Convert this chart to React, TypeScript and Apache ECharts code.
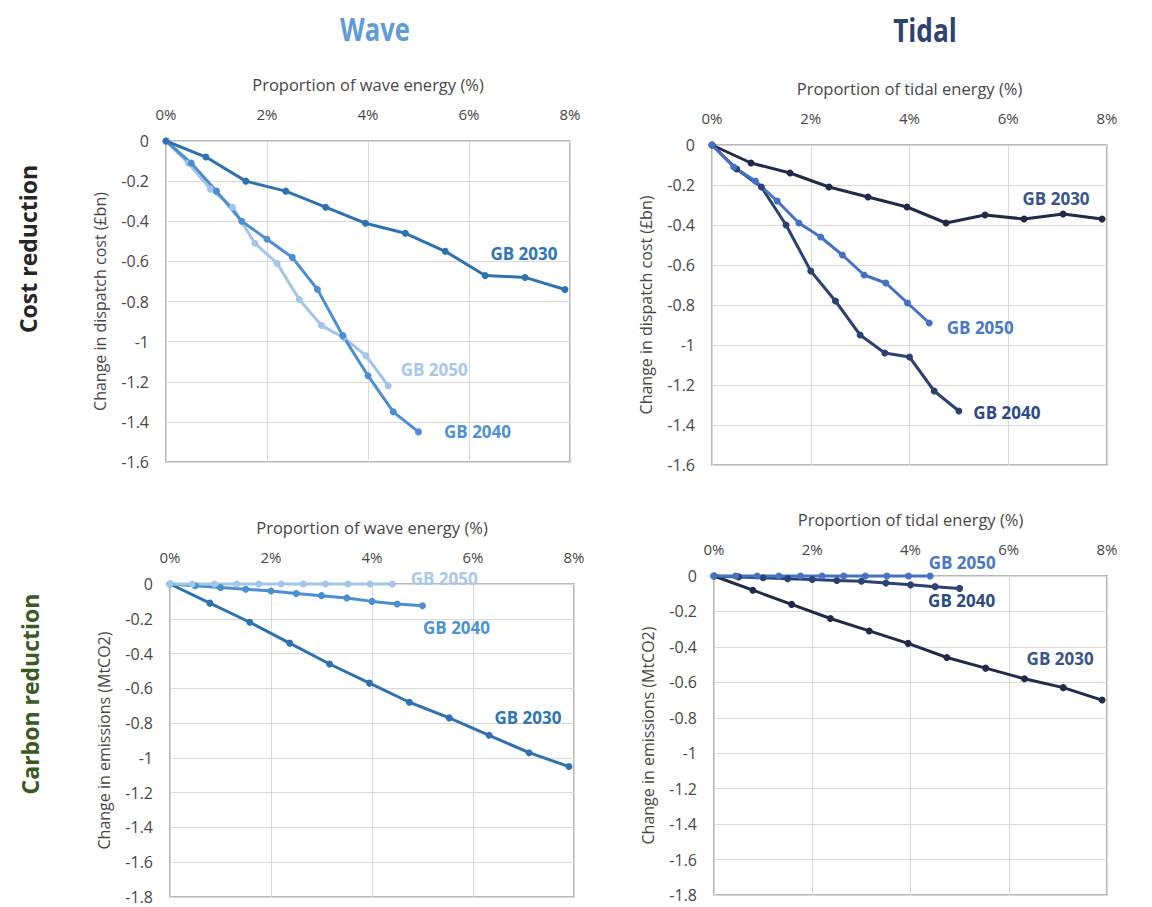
import React, { useEffect, useRef } from "react";
import * as echarts from "echarts";

// Share of generation (%) at each model run
const x2030 = [0, 0.79, 1.58, 2.37, 3.16, 3.95, 4.74, 5.53, 6.32, 7.11, 7.9];
const x2040 = [0, 0.5, 1.0, 1.5, 2.0, 2.5, 3.0, 3.5, 4.0, 4.5, 5.0];
const x2050 = [0, 0.44, 0.88, 1.32, 1.76, 2.2, 2.64, 3.08, 3.52, 3.96, 4.4];

// Change in dispatch cost (£bn)
const waveCost2030 = [0, -0.08, -0.2, -0.25, -0.33, -0.41, -0.46, -0.55, -0.67, -0.68, -0.74];
const waveCost2040 = [0, -0.11, -0.25, -0.4, -0.49, -0.58, -0.74, -0.97, -1.17, -1.35, -1.45];
const waveCost2050 = [0, -0.11, -0.24, -0.33, -0.51, -0.61, -0.79, -0.92, -0.98, -1.07, -1.22];
const tidalCost2030 = [0, -0.09, -0.14, -0.21, -0.26, -0.31, -0.39, -0.35, -0.37, -0.345, -0.37];
const tidalCost2040 = [0, -0.12, -0.21, -0.4, -0.63, -0.78, -0.95, -1.04, -1.06, -1.23, -1.33];
const tidalCost2050 = [0, -0.11, -0.18, -0.28, -0.39, -0.46, -0.55, -0.65, -0.69, -0.79, -0.89];

// Change in emissions (MtCO2)
const waveCarbon2030 = [0, -0.11, -0.22, -0.34, -0.46, -0.57, -0.68, -0.77, -0.87, -0.97, -1.05];
const waveCarbon2040 = [0, -0.01, -0.02, -0.03, -0.04, -0.055, -0.067, -0.08, -0.1, -0.115, -0.125];
const waveCarbon2050 = [0, 0, 0, 0, 0, 0, 0, 0, 0, 0, 0];
const tidalCarbon2030 = [0, -0.08, -0.16, -0.24, -0.31, -0.38, -0.46, -0.52, -0.58, -0.63, -0.7];
const tidalCarbon2040 = [0, -0.005, -0.01, -0.015, -0.02, -0.025, -0.03, -0.04, -0.05, -0.06, -0.07];
const tidalCarbon2050 = [0, 0, 0, 0, 0, 0, 0, 0, 0, 0, 0];

const xTicks = [0, 2, 4, 6, 8];

const FONT = '"Open Sans", sans-serif';
const AXIS_TEXT = "#474747";

const WAVE = { c2030: "#2e72b2", c2040: "#4b8fd2", c2050: "#a3c5e8" };
const TIDAL = { c2030: "#1f2b48", c2040: "#2c4275", c2050: "#4472c4" };

type Panel = {
  left: number;
  top: number;
  width: number;
  height: number;
  xName: string;
  yName: string;
  yMin: number;
};

const panels: Panel[] = [
  { left: 166, top: 141, width: 404, height: 321, xName: "Proportion of wave energy (%)", yName: "Change in dispatch cost (£bn)", yMin: -1.6 },
  { left: 712, top: 145, width: 395, height: 320, xName: "Proportion of tidal energy (%)", yName: "Change in dispatch cost (£bn)", yMin: -1.6 },
  { left: 170, top: 584, width: 404, height: 313, xName: "Proportion of wave energy (%)", yName: "Change in emissions (MtCO2)", yMin: -1.8 },
  { left: 714, top: 576, width: 393, height: 319, xName: "Proportion of tidal energy (%)", yName: "Change in emissions (MtCO2)", yMin: -1.8 },
];

function lineSeries(
  gridIndex: number,
  name: string,
  xs: number[],
  ys: number[],
  color: string,
  labelColor: string,
  labelOffset: number[]
) {
  const last = xs.length - 1;
  return {
    type: "line",
    name,
    xAxisIndex: gridIndex,
    yAxisIndex: gridIndex,
    symbol: "circle",
    symbolSize: 7,
    showSymbol: true,
    clip: false,
    lineStyle: { color, width: 3 },
    itemStyle: { color },
    label: { show: false },
    data: xs.map((x, i) =>
      i === last
        ? {
            value: [x, ys[i]],
            label: {
              show: true,
              position: "inside",
              offset: labelOffset,
              formatter: name,
              color: labelColor,
              fontFamily: FONT,
              fontWeight: "bold",
              fontSize: 17,
            },
          }
        : [x, ys[i]]
    ),
  };
}

export default function App() {
  const ref = useRef<HTMLDivElement>(null);

  useEffect(() => {
    if (!ref.current) return;
    const chart = echarts.init(ref.current, undefined, { renderer: "svg" });

    const grids = panels.map((p) => ({
      left: p.left,
      top: p.top,
      width: p.width,
      height: p.height,
      show: true,
      borderColor: "#a0a0a0",
      borderWidth: 1.5,
      backgroundColor: "#ffffff",
      containLabel: false,
    }));

    const xAxes = panels.map((p, i) => ({
      type: "value",
      gridIndex: i,
      position: "top",
      min: xTicks[0],
      max: xTicks[xTicks.length - 1],
      interval: 2,
      name: p.xName,
      nameLocation: "middle",
      nameGap: 48,
      nameTextStyle: { color: AXIS_TEXT, fontSize: 16.5, fontFamily: FONT },
      axisLine: { show: false },
      axisTick: { show: false },
      axisLabel: { color: AXIS_TEXT, fontSize: 15, fontFamily: FONT, margin: 20, formatter: "{value}%" },
      splitLine: { show: true, lineStyle: { color: "#d9d9d9", width: 1 } },
    }));

    const yAxes = panels.map((p, i) => ({
      type: "value",
      gridIndex: i,
      min: p.yMin,
      max: 0,
      interval: 0.2,
      name: p.yName,
      nameLocation: "middle",
      nameGap: 58,
      nameTextStyle: { color: AXIS_TEXT, fontSize: 16, fontFamily: FONT },
      axisLine: { show: false },
      axisTick: { show: false },
      axisLabel: {
        color: AXIS_TEXT,
        fontSize: 16,
        fontFamily: FONT,
        margin: 17,
        formatter: (v: number) => String(Math.round(v * 10) / 10),
      },
      splitLine: { show: true, lineStyle: { color: "#d9d9d9", width: 1 } },
    }));

    const series = [
      // Wave – dispatch cost
      lineSeries(0, "GB 2050", x2050, waveCost2050, WAVE.c2050, "#a9c8e8", [46, -16]),
      lineSeries(0, "GB 2040", x2040, waveCost2040, WAVE.c2040, "#4d92d4", [59, 0]),
      lineSeries(0, "GB 2030", x2030, waveCost2030, WAVE.c2030, "#2e75b6", [-41, -36]),
      // Tidal – dispatch cost
      lineSeries(1, "GB 2030", x2030, tidalCost2030, TIDAL.c2030, "#3a558c", [-46, -21]),
      lineSeries(1, "GB 2040", x2040, tidalCost2040, TIDAL.c2040, "#2d4a86", [48, 1]),
      lineSeries(1, "GB 2050", x2050, tidalCost2050, TIDAL.c2050, "#4a78c8", [51, 4]),
      // Wave – emissions
      lineSeries(2, "GB 2030", x2030, waveCarbon2030, WAVE.c2030, "#2e75b6", [-41, -49]),
      lineSeries(2, "GB 2040", x2040, waveCarbon2040, WAVE.c2040, "#4d92d4", [34, 22]),
      lineSeries(2, "GB 2050", x2050, waveCarbon2050, WAVE.c2050, "#a9c8e8", [52, -6]),
      // Tidal – emissions
      lineSeries(3, "GB 2030", x2030, tidalCarbon2030, TIDAL.c2030, "#3a558c", [-42, -42]),
      lineSeries(3, "GB 2040", x2040, tidalCarbon2040, TIDAL.c2040, "#2d4a86", [2, 12]),
      lineSeries(3, "GB 2050", x2050, tidalCarbon2050, TIDAL.c2050, "#4a78c8", [32, -14]),
    ];

    chart.setOption({
      animation: false,
      backgroundColor: "#ffffff",
      grid: grids,
      xAxis: xAxes,
      yAxis: yAxes,
      series,
      graphic: [
        {
          type: "text",
          x: 375,
          y: 28,
          scaleX: 0.8,
          style: { text: "Wave", fill: "#5f9bd6", fontFamily: FONT, fontWeight: "bold", fontSize: 32, align: "center", verticalAlign: "middle" },
        },
        {
          type: "text",
          x: 925,
          y: 30,
          scaleX: 0.82,
          style: { text: "Tidal", fill: "#2f4370", fontFamily: FONT, fontWeight: "bold", fontSize: 32, align: "center", verticalAlign: "middle" },
        },
        {
          type: "text",
          x: 28,
          y: 249,
          rotation: Math.PI / 2,
          style: { text: "Cost reduction", fill: "#262626", fontFamily: FONT, fontWeight: "bold", fontSize: 23, align: "center", verticalAlign: "middle" },
        },
        {
          type: "text",
          x: 30,
          y: 694,
          rotation: Math.PI / 2,
          style: { text: "Carbon reduction", fill: "#3a5a1f", fontFamily: FONT, fontWeight: "bold", fontSize: 23, align: "center", verticalAlign: "middle" },
        },
      ],
    });

    return () => chart.dispose();
  }, []);

  return (
    <div
      ref={ref}
      style={{ position: "absolute", left: 0, top: 0, width: 1152, height: 907, background: "#ffffff" }}
    />
  );
}
